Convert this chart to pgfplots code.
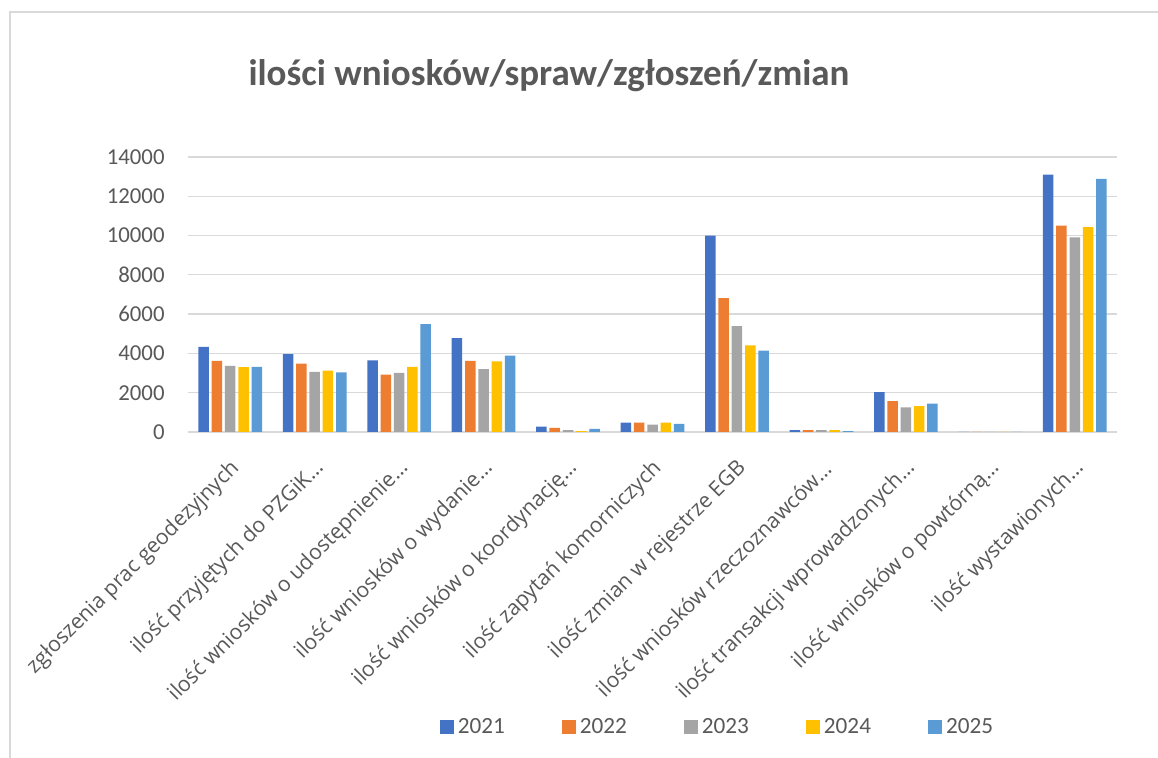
\documentclass[border=0pt]{standalone}
\usepackage{fontspec}
\setmainfont{Carlito}
\newfontfamily\labelfont{Open Sans}
\usepackage{pgfplots}
\pgfplotsset{compat=1.18}
\definecolor{cA}{HTML}{4472C4}
\definecolor{cB}{HTML}{ED7D31}
\definecolor{cC}{HTML}{A5A5A5}
\definecolor{cD}{HTML}{FFC000}
\definecolor{cE}{HTML}{5B9BD5}
\definecolor{txt}{HTML}{595959}
\definecolor{grd}{HTML}{D9D9D9}
\begin{document}
\begin{tikzpicture}
\useasboundingbox (0pt,0pt) rectangle (579pt,379pt);
\fill[white] (0pt,0pt) rectangle (579pt,379pt);
\draw[grd, line width=0.6pt] (5pt,0pt) -- (5pt,373pt) -- (579pt,373pt);
\node[font=\fontsize{18.5}{22}\selectfont\bfseries, text=txt, anchor=base] at (274.5pt,336pt) {ilości wniosków/spraw/zgłoszeń/zmian};
\begin{axis}[
  at={(94pt,163pt)}, anchor=south west,
  scale only axis, width=464.5pt, height=137.5pt,
  ybar=1.4pt, bar width=5.25pt,
  xmin=-0.5, xmax=10.5, ymin=0, ymax=14000,
  xtick={0,...,10},
  xticklabels={zgłoszenia prac geodezyjnych, ilość przyjętych do PZGiK…, ilość wniosków o udostępnienie…, ilość wniosków o wydanie…, ilość wniosków o koordynację…, ilość zapytań komorniczych, ilość zmian w rejestrze EGB, ilość wniosków rzeczoznawców…, ilość transakcji wprowadzonych…, ilość wniosków o powtórną…, ilość wystawionych…},
  ytick={0,2000,...,14000},
  scaled y ticks=false,
  major tick length=0pt,
  axis line style={draw=none},
  ymajorgrids, grid style={grd, line width=0.65pt},
  /pgf/number format/.cd, 1000 sep={}, assume math mode=true, /pgfplots/.cd,
  yticklabel style={font=\fontsize{11.4}{13}\selectfont, text=txt, anchor=east, inner sep=0pt, xshift=-11.5pt},
  xticklabel style={font=\labelfont\fontsize{10.6}{12}\selectfont, text=txt, inner sep=0pt, anchor=east, xshift=3pt, yshift=-16.5pt, rotate=45},
  legend style={at={(0.571,-1.073)}, anchor=center, draw=none, fill=none, legend columns=5,
    font=\fontsize{11.6}{13}\selectfont, text=txt,
    /tikz/every even column/.append style={column sep=26.5pt}},
  legend image code/.code={\fill[#1] (0pt,-3.5pt) rectangle (7pt,3.5pt);},
]
\addplot[fill=cA, draw=none] coordinates {(0,4330) (1,3960) (2,3650) (3,4780) (4,270) (5,480) (6,10000) (7,90) (8,2030) (9,0) (10,13100)};
\addplot[fill=cB, draw=none] coordinates {(0,3620) (1,3480) (2,2920) (3,3620) (4,210) (5,480) (6,6820) (7,90) (8,1570) (9,0) (10,10500)};
\addplot[fill=cC, draw=none] coordinates {(0,3370) (1,3060) (2,3010) (3,3200) (4,90) (5,380) (6,5390) (7,90) (8,1250) (9,0) (10,9910)};
\addplot[fill=cD, draw=none] coordinates {(0,3300) (1,3130) (2,3310) (3,3590) (4,40) (5,480) (6,4410) (7,90) (8,1320) (9,0) (10,10430)};
\addplot[fill=cE, draw=none] coordinates {(0,3310) (1,3040) (2,5490) (3,3890) (4,160) (5,410) (6,4140) (7,40) (8,1440) (9,0) (10,12880)};
\legend{2021,2022,2023,2024,2025}
\end{axis}
\end{tikzpicture}
\end{document}
